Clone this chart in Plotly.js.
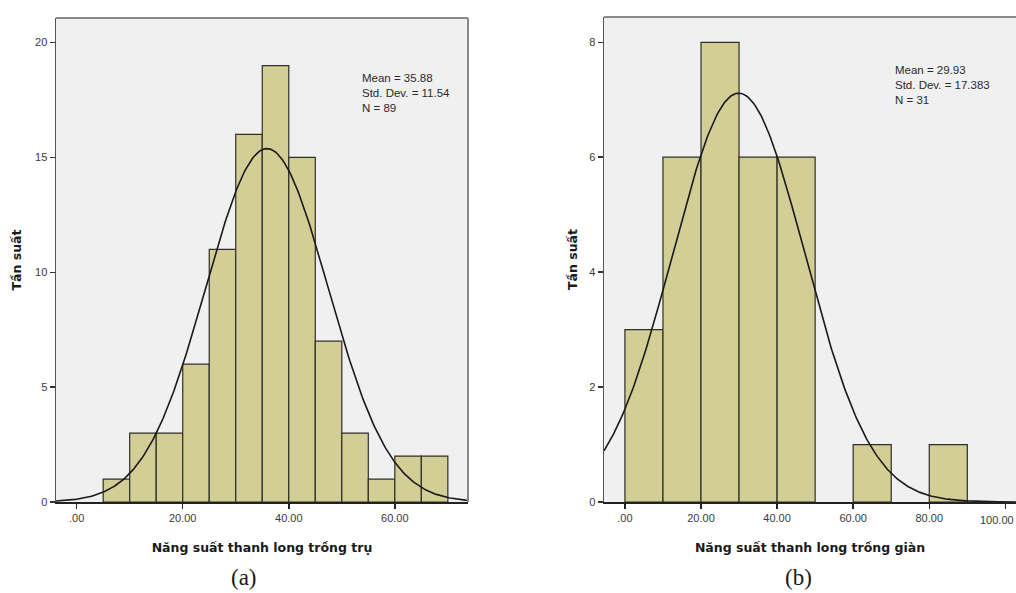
<!DOCTYPE html>
<html>
<head>
<meta charset="utf-8">
<script src="https://cdn.plot.ly/plotly-3.0.1.min.js"></script>
<style>html,body{margin:0;padding:0;background:#fff;}#chart{width:1016px;height:593px;}</style>
</head>
<body>
<div id="chart"></div>
<script>
// ---- Data: panel (a) ----
const binStartsA = [5, 10, 15, 20, 25, 30, 35, 40, 45, 50, 55, 60, 65];
const countsA    = [1, 3, 3, 6, 11, 16, 19, 15, 7, 3, 1, 2, 2];
const binWidthA  = 5;
const meanA = 35.88, sdA = 11.54, nA = 89;
const xTickValsA = [0, 20, 40, 60];
const xTickTextA = ['.00', '20.00', '40.00', '60.00'];
const yTickValsA = [0, 5, 10, 15, 20];

// ---- Data: panel (b) ----
const binStartsB = [0, 10, 20, 30, 40, 60, 80];
const countsB    = [3, 6, 8, 6, 6, 1, 1];
const binWidthB  = 10;
const meanB = 29.93, sdB = 17.383, nB = 31;
const xTickValsB = [0, 20, 40, 60, 80, 100];
const xTickTextB = ['.00', '20.00', '40.00', '60.00', '80.00', '100.00'];
const yTickValsB = [0, 2, 4, 6, 8];

const xTitleA = 'Năng suất thanh long trồng trụ';
const xTitleB = 'Năng suất thanh long trồng giàn';
const yTitle = 'Tần suất';

// ---- Layout constants ----
const W = 1016, H = 593;
const xRangeA = [-3.9, 73.8], yRangeA = [0, 21.07];
const xRangeB = [-5.5, 102.8], yRangeB = [0, 8.44];

function normalCurve(mean, sd, n, bw, range) {
  const xs = [], ys = [];
  const steps = 300;
  for (let i = 0; i <= steps; i++) {
    const x = range[0] + (range[1] - range[0]) * i / steps;
    xs.push(x);
    ys.push(n * bw / (sd * Math.sqrt(2 * Math.PI)) * Math.exp(-0.5 * Math.pow((x - mean) / sd, 2)));
  }
  return {xs, ys};
}

const barColor = '#d3ce96';
const barLine = {color: '#2f2f25', width: 1.2};

const curveA = normalCurve(meanA, sdA, nA, binWidthA, xRangeA);
const curveB = normalCurve(meanB, sdB, nB, binWidthB, xRangeB);

const traces = [
  {type: 'bar', x: binStartsA.map(s => s + binWidthA / 2), y: countsA, width: binWidthA,
   marker: {color: barColor, line: barLine}, xaxis: 'x', yaxis: 'y', hoverinfo: 'x+y'},
  {type: 'scatter', mode: 'lines', x: curveA.xs, y: curveA.ys, line: {color: '#1a1a1a', width: 1.6},
   xaxis: 'x', yaxis: 'y'},
  {type: 'bar', x: binStartsB.map(s => s + binWidthB / 2), y: countsB, width: binWidthB,
   marker: {color: barColor, line: barLine}, xaxis: 'x2', yaxis: 'y2', hoverinfo: 'x+y'},
  {type: 'scatter', mode: 'lines', x: curveB.xs, y: curveB.ys, line: {color: '#1a1a1a', width: 1.6},
   xaxis: 'x2', yaxis: 'y2'}
];

const px = v => v / W, py = v => 1 - v / H;

const tickFont = {family: 'Liberation Sans, Arial, sans-serif', size: 11, color: '#3a3a3a'};
const titleFont = {family: 'DejaVu Sans, Verdana, sans-serif', size: 12.5, color: '#1a1a1a', weight: 'bold'};

function xAxis(domain, range, vals, text, title, anchor) {
  return {domain, range, anchor, tickmode: 'array', tickvals: vals, ticktext: text,
    ticks: 'outside', ticklen: 5, tickwidth: 1.5, tickcolor: '#222',
    showline: true, linecolor: '#222', linewidth: 1.5, showgrid: false, zeroline: false,
    tickfont: tickFont, fixedrange: true,
    title: {text: title, font: titleFont, standoff: 20}};
}
function yAxis(domain, range, vals, title, anchor, standoff) {
  return {domain, range, anchor, tickmode: 'array', tickvals: vals,
    ticks: 'outside', ticklen: 5, tickwidth: 1.5, tickcolor: '#333',
    showline: true, linecolor: '#555', linewidth: 1.5, showgrid: false, zeroline: false,
    tickfont: tickFont, fixedrange: true,
    title: {text: title, font: titleFont, standoff}};
}

const statFont = {family: 'Liberation Sans Narrow, Arial Narrow, Liberation Sans, sans-serif', size: 11.5, color: '#2a2a2a'};

const layout = {
  width: W, height: H,
  margin: {l: 0, r: 0, t: 0, b: 0},
  paper_bgcolor: '#ffffff',
  plot_bgcolor: '#f0f0f0',
  showlegend: false,
  bargap: 0,
  xaxis: xAxis([px(56), px(468)], xRangeA, xTickValsA, xTickTextA, xTitleA, 'y'),
  yaxis: yAxis([py(502), py(18)], yRangeA, yTickValsA, yTitle, 'x', 10),
  xaxis2: xAxis([px(604), 1], xRangeB, xTickValsB, xTickTextB, xTitleB, 'y2'),
  yaxis2: yAxis([py(502), py(17)], yRangeB, yTickValsB, yTitle, 'x2', 9),
  shapes: [
    {type: 'line', xref: 'x domain', yref: 'y domain', x0: 0, x1: 1, y0: 1, y1: 1, line: {color: '#8a8a8a', width: 2}},
    {type: 'line', xref: 'x domain', yref: 'y domain', x0: 1, x1: 1, y0: 0, y1: 1, line: {color: '#8a8a8a', width: 2}},
    {type: 'line', xref: 'x2 domain', yref: 'y2 domain', x0: 0, x1: 1, y0: 1, y1: 1, line: {color: '#8a8a8a', width: 2}}
  ],
  annotations: [
    {xref: 'paper', yref: 'paper', x: px(360), y: py(70), xanchor: 'left', yanchor: 'top', align: 'left', showarrow: false,
     text: 'Mean = ' + meanA.toFixed(2) + '<br>Std. Dev. = ' + sdA.toFixed(2) + '<br>N = ' + nA, font: statFont},
    {xref: 'paper', yref: 'paper', x: px(893), y: py(62), xanchor: 'left', yanchor: 'top', align: 'left', showarrow: false,
     text: 'Mean = ' + meanB.toFixed(2) + '<br>Std. Dev. = ' + sdB.toFixed(3) + '<br>N = ' + nB, font: statFont},
    // last tick label of panel (b), kept fully inside the page edge
    {xref: 'paper', yref: 'paper', x: 1, y: py(512), xanchor: 'right', yanchor: 'top', showarrow: false,
     text: xTickTextB[xTickTextB.length - 1], font: tickFont},
    {xref: 'paper', yref: 'paper', x: px(244), y: py(577), xanchor: 'center', yanchor: 'middle', showarrow: false,
     text: '(a)', font: {family: 'Liberation Serif, Times New Roman, serif', size: 23, color: '#1a1a1a'}},
    {xref: 'paper', yref: 'paper', x: px(798), y: py(577), xanchor: 'center', yanchor: 'middle', showarrow: false,
     text: '(b)', font: {family: 'Liberation Serif, Times New Roman, serif', size: 23, color: '#1a1a1a'}}
  ]
};

Plotly.newPlot('chart', traces, layout, {staticPlot: true, displayModeBar: false});
</script>
</body>
</html>
